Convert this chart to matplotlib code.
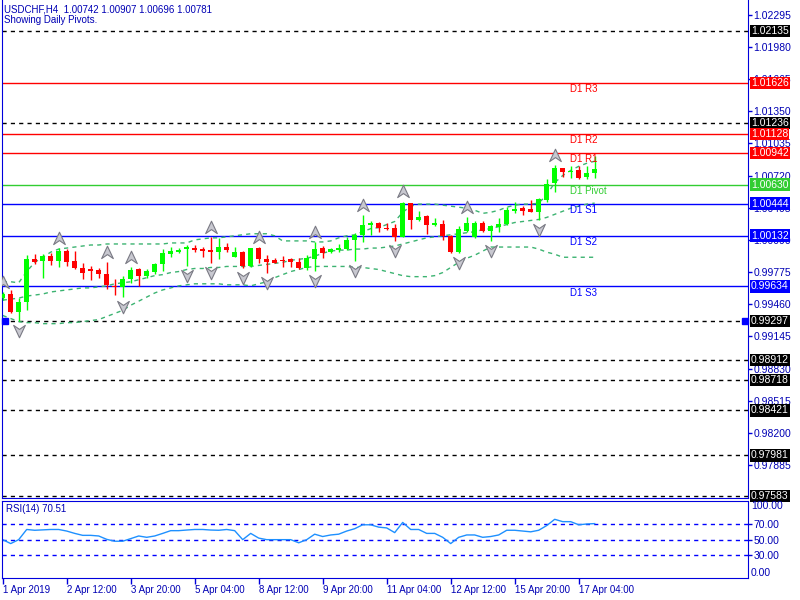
import numpy as np
import matplotlib.pyplot as plt
from matplotlib.path import Path
import matplotlib.transforms as mtransforms

plt.rcParams['font.family'] = ['Liberation Sans', 'DejaVu Sans']

# --- dados das velas H4 (USDCHF) ---
opens = [0.99518, 0.99557, 0.99387, 0.99485, 0.99900, 0.99883, 0.99932, 0.99886, 0.99984, 0.99883,
         0.99818, 0.99802, 0.99795, 0.99756, 0.99639, 0.99626, 0.99704, 0.99802, 0.99739, 0.99779,
         0.99851, 0.99952, 0.99968, 1.00001, 1.00008, 1.00001, 0.99991, 0.99974, 1.00017, 0.99925,
         0.99974, 0.99834, 1.00008, 0.99903, 0.99893, 0.99893, 0.99900, 0.99877, 0.99818, 0.99903,
         1.00008, 0.99974, 0.99991, 1.00001, 1.00089, 1.00138, 1.00236, 1.00252, 1.00211, 1.00203,
         1.00121, 1.00448, 1.00285, 1.00324, 1.00236, 1.00246, 1.00131, 0.99974, 1.00180, 1.00115,
         1.00258, 1.00180, 1.00219, 1.00243, 1.00373, 1.00399, 1.00392, 1.00366, 1.00481, 1.00644,
         1.00791, 1.00758, 1.00774, 1.00703, 1.00742]
highs = [0.99580, 0.99599, 0.99524, 0.99942, 0.99949, 0.99949, 0.99959, 1.00008, 0.99998, 0.99981,
         0.99867, 0.99834, 0.99818, 0.99876, 0.99704, 0.99737, 0.99822, 0.99812, 0.99802, 0.99861,
         0.99998, 1.00023, 1.00014, 1.00040, 1.00040, 1.00023, 1.00115, 1.00106, 1.00057, 1.00023,
         0.99981, 1.00014, 1.00023, 0.99942, 0.99910, 0.99932, 0.99910, 0.99910, 0.99942, 1.00072,
         1.00033, 1.00014, 1.00047, 1.00121, 1.00154, 1.00334, 1.00278, 1.00268, 1.00252, 1.00243,
         1.00464, 1.00455, 1.00373, 1.00334, 1.00301, 1.00285, 1.00138, 1.00229, 1.00311, 1.00275,
         1.00275, 1.00236, 1.00301, 1.00409, 1.00464, 1.00425, 1.00481, 1.00497, 1.00683, 1.00823,
         1.00794, 1.00813, 1.00813, 1.00813, 1.00907]
lows = [0.99501, 0.99371, 0.99297, 0.99404, 0.99854, 0.99714, 0.99844, 0.99827, 0.99834, 0.99802,
        0.99707, 0.99697, 0.99714, 0.99606, 0.99550, 0.99528, 0.99665, 0.99639, 0.99720, 0.99753,
        0.99788, 0.99920, 0.99959, 0.99834, 0.99974, 0.99920, 0.99861, 0.99903, 0.99974, 0.99922,
        0.99818, 0.99827, 0.99861, 0.99769, 0.99861, 0.99827, 0.99827, 0.99802, 0.99795, 0.99788,
        0.99916, 0.99965, 0.99974, 0.99991, 0.99883, 1.00072, 1.00138, 1.00170, 1.00187, 1.00082,
        1.00115, 1.00197, 1.00275, 1.00148, 1.00229, 1.00089, 0.99965, 0.99965, 1.00170, 1.00108,
        1.00170, 1.00082, 1.00170, 1.00236, 1.00356, 1.00334, 1.00360, 1.00285, 1.00458, 1.00562,
        1.00709, 1.00693, 1.00686, 1.00686, 1.00696]
closes = [0.99557, 0.99387, 0.99485, 0.99900, 0.99871, 0.99932, 0.99886, 0.99984, 0.99877, 0.99812,
          0.99769, 0.99788, 0.99753, 0.99648, 0.99626, 0.99704, 0.99795, 0.99737, 0.99788, 0.99854,
          0.99959, 0.99981, 0.99991, 1.00017, 0.99991, 0.99984, 0.99974, 1.00017, 0.99991, 0.99974,
          0.99834, 1.00008, 0.99900, 0.99877, 0.99867, 0.99883, 0.99871, 0.99818, 0.99910, 1.00001,
          0.99959, 1.00001, 1.00014, 1.00089, 1.00138, 1.00236, 1.00252, 1.00203, 1.00197, 1.00121,
          1.00448, 1.00285, 1.00311, 1.00236, 1.00252, 1.00131, 0.99974, 1.00197, 1.00258, 1.00258,
          1.00180, 1.00226, 1.00246, 1.00383, 1.00392, 1.00376, 1.00366, 1.00490, 1.00634, 1.00791,
          1.00752, 1.00767, 1.00699, 1.00742, 1.00781]

# Bandas (linhas tracejadas verdes)
bb_upper = [0.9968, 0.9968, 0.9967, 0.9978, 0.9987, 0.9992, 0.9997, 1.0000, 1.0001, 1.0002,
            1.0003, 1.0004, 1.0004, 1.0005, 1.0005, 1.0005, 1.0005, 1.0005, 1.0005, 1.0005,
            1.0005, 1.0006, 1.0006, 1.0006, 1.0009, 1.0010, 1.0011, 1.0011, 1.0012, 1.0013,
            1.0014, 1.0015, 1.0015, 1.0015, 1.0013, 1.0008, 1.0008, 1.0008, 1.0008, 1.0007,
            1.0007, 1.0008, 1.0011, 1.0013, 1.0014, 1.0017, 1.0020, 1.0021, 1.0024, 1.0027,
            1.0036, 1.0042, 1.0044, 1.0044, 1.0044, 1.0043, 1.0042, 1.0041, 1.0040, 1.0038,
            1.0035, 1.0036, 1.0038, 1.0041, 1.0043, 1.0044, 1.0044, 1.0045, 1.0053, 1.0065,
            1.0072, 1.0077, 1.0081, 1.0084, 1.0086]
bb_middle = [0.9950, 0.9951, 0.9952, 0.9954, 0.9955, 0.9956, 0.9958, 0.9959, 0.9960, 0.9961,
             0.9962, 0.9962, 0.9963, 0.9964, 0.9966, 0.9967, 0.9968, 0.9970, 0.9972, 0.9974,
             0.9975, 0.9977, 0.9978, 0.9980, 0.9981, 0.9981, 0.9982, 0.9982, 0.9983, 0.9983,
             0.9983, 0.9983, 0.9984, 0.9985, 0.9986, 0.9987, 0.9989, 0.9990, 0.9991, 0.9993,
             0.9996, 0.9998, 0.9999, 0.9999, 1.0000, 1.0000, 1.0001, 1.0001, 1.0002, 1.0003,
             1.0005, 1.0007, 1.0009, 1.0011, 1.0012, 1.0013, 1.0014, 1.0015, 1.0016, 1.0017,
             1.0019, 1.0020, 1.0022, 1.0024, 1.0026, 1.0027, 1.0028, 1.0029, 1.0031, 1.0034,
             1.0037, 1.0040, 1.0042, 1.0044, 1.0045]
bb_lower = [0.9935, 0.9932, 0.9929, 0.9928, 0.9928, 0.9927, 0.9927, 0.9927, 0.9928, 0.9928,
            0.9929, 0.9930, 0.9931, 0.9934, 0.9937, 0.9940, 0.9945, 0.9949, 0.9953, 0.9957,
            0.9960, 0.9962, 0.9964, 0.9965, 0.9966, 0.9966, 0.9966, 0.9966, 0.9965, 0.9965,
            0.9965, 0.9964, 0.9966, 0.9968, 0.9972, 0.9975, 0.9978, 0.9980, 0.9982, 0.9983,
            0.9983, 0.9983, 0.9983, 0.9983, 0.9982, 0.9982, 0.9981, 0.9980, 0.9978, 0.9976,
            0.9974, 0.9973, 0.9973, 0.9973, 0.9974, 0.9977, 0.9982, 0.9987, 0.9991, 0.9994,
            0.9998, 1.0002, 1.0002, 1.0002, 1.0002, 1.0002, 1.0002, 1.0000, 0.9997, 0.9995,
            0.9992, 0.9992, 0.9992, 0.9992, 0.9992]

rsi = [50, 45, 50, 63, 62, 62.5, 63, 63, 61, 58, 55.5, 55.5, 54.7, 50.4, 48, 48, 51.3, 54.7, 53, 54.7,
       58, 61.5, 61.5, 62.3, 63, 63, 62.3, 62, 63, 61.5, 50, 58, 52, 50, 50, 50, 50, 46, 50, 57,
       54, 56, 57, 61, 64, 69, 69, 66, 65, 59, 72, 63, 63, 58, 58, 53, 45, 53, 56, 56,
       53, 54, 56, 62, 62, 61, 60, 62, 68, 76, 73, 73, 69, 70, 70.51]

# fractais (índices das barras)
fractal_up = [0, 7, 13, 16, 26, 32, 39, 45, 50, 58, 69]
fractal_down = [2, 15, 23, 26, 30, 33, 39, 44, 49, 57, 61, 67]

# pivôs diários
pivot_names = ['D1 R3', 'D1 R2', 'D1 R1', 'D1 Pivot', 'D1 S1', 'D1 S2', 'D1 S3']
pivot_levels = [1.01626, 1.01128, 1.00942, 1.00630, 1.00444, 1.00132, 0.99634]
pivot_colors = ['#ff0000', '#ff0000', '#ff0000', '#32cd32', '#0000ff', '#0000ff', '#0000ff']

# linhas tracejadas pretas
dashed_levels = [1.02135, 1.01236, 0.99297, 0.98912, 0.98718, 0.98421, 0.97981, 0.97583]

price_ticks = [1.02295, 1.01980, 1.01665, 1.01350, 1.01035, 1.00720, 1.00405, 1.00090,
               0.99775, 0.99460, 0.99145, 0.98830, 0.98515, 0.98200, 0.97885]

time_bars = [0, 8, 16, 24, 32, 40, 48, 56, 64, 72]
time_labels = ['1 Apr 2019', '2 Apr 12:00', '3 Apr 20:00', '5 Apr 04:00', '8 Apr 12:00',
               '9 Apr 20:00', '11 Apr 04:00', '12 Apr 12:00', '15 Apr 20:00', '17 Apr 04:00']

rsi_levels = [70, 50, 30]

AZUL = '#0000dd'
TEXTO = '#0000b4'

W, H = 800, 600


def caixa_px(x0, y0, x1, y1):
    return [x0 / W, 1 - y1 / H, (x1 - x0) / W, (y1 - y0) / H]


fig = plt.figure(figsize=(8, 6), dpi=100)
ax = fig.add_axes(caixa_px(2, 0, 748, 498))
ax_rsi = fig.add_axes(caixa_px(2, 501, 748, 578))

n = len(opens)
xs = np.arange(n)
xmin = -0.7 / 8
xmax = xmin + 746 / 8

# --- painel principal ---
ax.set_xlim(xmin, xmax)
ax.set_ylim(1.0243849 - 0.0000979 * 498, 1.0243849)

for lvl in dashed_levels:
    ax.axhline(lvl, color='black', lw=1, ls=(0, (3, 3)), zorder=1)
for lvl, cor in zip(pivot_levels, pivot_colors):
    ax.axhline(lvl, color=cor, lw=1, zorder=1)

for banda in (bb_upper, bb_middle, bb_lower):
    ax.plot(xs, banda, color='#3cb371', lw=1, ls=(0, (3, 3)), zorder=2)

for i in range(n):
    o, h, l, c = opens[i], highs[i], lows[i], closes[i]
    cor = '#00ff00' if c >= o else '#ff0000'
    ax.vlines(i, l, h, color=cor, lw=1, zorder=3)
    corpo = max(abs(c - o), 0.00002)
    ax.bar(i, corpo, bottom=min(o, c), width=0.62, color=cor, lw=0, zorder=3)

seta_up = Path([(0, 1), (0.8, -0.7), (0, -0.15), (-0.8, -0.7), (0, 1)],
               [Path.MOVETO, Path.LINETO, Path.LINETO, Path.LINETO, Path.CLOSEPOLY])
seta_dn = Path([(0, -1), (0.8, 0.7), (0, 0.15), (-0.8, 0.7), (0, -1)],
               [Path.MOVETO, Path.LINETO, Path.LINETO, Path.LINETO, Path.CLOSEPOLY])
desl = 0.0009
ax.scatter(fractal_up, [highs[i] + desl for i in fractal_up], marker=seta_up,
           s=110, facecolor='#c8c8d0', edgecolor='#7a7a84', lw=0.8, zorder=4)
ax.scatter(fractal_down, [lows[i] - desl for i in fractal_down], marker=seta_dn,
           s=110, facecolor='#c8c8d0', edgecolor='#7a7a84', lw=0.8, zorder=4)

# marcadores azuis na linha 0.99297
ax.plot([0.004, 0.996], [0.99297, 0.99297], 's', ms=4, color='#0000ff',
        transform=mtransforms.blended_transform_factory(ax.transAxes, ax.transData),
        clip_on=False, zorder=5)

# rótulos dos pivôs
abaixo = mtransforms.offset_copy(ax.transData, fig=fig, x=0, y=-1.5, units='dots')
for nome, lvl, cor in zip(pivot_names, pivot_levels, pivot_colors):
    ax.text(70.9, lvl, nome, color=cor, fontsize=7, va='top', ha='left',
            transform=abaixo, zorder=5)

# eixo de preços à direita
ax.yaxis.tick_right()
ax.set_yticks(price_ticks)
ax.set_yticklabels([f'{p:.5f}' for p in price_ticks])
ax.tick_params(axis='y', direction='out', length=3, width=1, color=AZUL,
               labelcolor=TEXTO, labelsize=7.5, pad=1)
ax.set_xticks([])
for lado in ('left', 'right', 'bottom'):
    ax.spines[lado].set_color(AZUL)
ax.spines['top'].set_visible(False)

# caixas de preço
misto = mtransforms.blended_transform_factory(ax.transAxes, ax.transData)
caixas = [(lvl, 'black') for lvl in dashed_levels] + list(zip(pivot_levels, pivot_colors))
for lvl, cor in caixas:
    ax.text(1 + 3 / 746, lvl, f'{lvl:.5f}', transform=misto, color='white', fontsize=7.5,
            ha='left', va='center', clip_on=False, zorder=6,
            bbox=dict(boxstyle='square,pad=0.12', fc=cor, ec='none'))

fig.text(4 / W, 1 - 9 / H, 'USDCHF,H4  1.00742 1.00907 1.00696 1.00781', color=TEXTO,
         fontsize=7, va='center', ha='left')
fig.text(4 / W, 1 - 20 / H, 'Showing Daily Pivots.', color=TEXTO,
         fontsize=7, va='center', ha='left')

# --- painel RSI ---
ax_rsi.set_xlim(xmin, xmax)
ax_rsi.set_ylim(1.0, 99.4)
for lvl in rsi_levels:
    ax_rsi.axhline(lvl, color='#0000ff', lw=1, ls=(0, (3, 3)))
ax_rsi.plot(xs, rsi, color='#1e90ff', lw=1)
ax_rsi.text(4 / 746, 0.9, 'RSI(14) 70.51', transform=ax_rsi.transAxes, color=TEXTO,
            fontsize=7, va='center', ha='left')

ax_rsi.yaxis.tick_right()
ax_rsi.set_yticks(rsi_levels)
ax_rsi.set_yticklabels([f'{v:.2f}' for v in rsi_levels])
ax_rsi.tick_params(axis='y', direction='out', length=3, width=1, color=AZUL,
                   labelcolor=TEXTO, labelsize=7.5, pad=1)
ax_rsi.text(1 + 3 / 746, 0.94, '100.00', transform=ax_rsi.transAxes, color=TEXTO,
            fontsize=7.5, va='center', ha='left')
ax_rsi.text(1 + 3 / 746, 0.07, '0.00', transform=ax_rsi.transAxes, color=TEXTO,
            fontsize=7.5, va='center', ha='left')

ax_rsi.set_xticks(time_bars)
ax_rsi.set_xticklabels(time_labels)
ax_rsi.tick_params(axis='x', direction='out', length=4, width=1, color=AZUL,
                   labelcolor=TEXTO, labelsize=7, pad=1)
for rot in ax_rsi.get_xticklabels():
    rot.set_ha('left')
for lado in ax_rsi.spines:
    ax_rsi.spines[lado].set_color(AZUL)

fig.savefig('out.png', dpi=100)
